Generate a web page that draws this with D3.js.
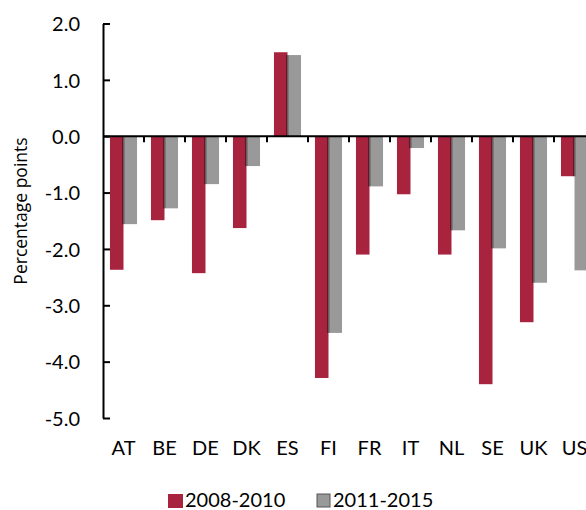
<!DOCTYPE html>
<html>
<head>
<meta charset="utf-8">
<script src="https://cdn.jsdelivr.net/npm/d3@7"></script>
<style>
  body { margin: 0; background: #fff; }
  svg text { font-family: Lato, "Open Sans", sans-serif; fill: #000; }
</style>
</head>
<body>
<svg id="chart" width="586" height="510"></svg>
<script>
// countries and the two period series (percentage points)
var countries = ['AT', 'BE', 'DE', 'DK', 'ES', 'FI', 'FR', 'IT', 'NL', 'SE', 'UK', 'US'];
var values0810 = [-2.37, -1.49, -2.43, -1.63, 1.49, -4.29, -2.10, -1.03, -2.10, -4.40, -3.30, -0.71];
var values1115 = [-1.56, -1.28, -0.85, -0.53, 1.44, -3.49, -0.89, -0.21, -1.67, -1.99, -2.60, -2.38];
var seriesNames = ['2008-2010', '2011-2015'];
var seriesColors = ['#a8243e', '#999999'];
var yTicks = [2, 1, 0, -1, -2, -3, -4, -5];

var rows = countries.map(function(c, i) {
  return { country: c, vals: [values0810[i], values1115[i]] };
});

var svg = d3.select('#chart');

var x0 = d3.scaleBand()
  .domain(countries)
  .range([103, 595])
  .paddingInner(0.34)
  .paddingOuter(0.17);

var x1 = d3.scaleBand()
  .domain([0, 1])
  .range([0, x0.bandwidth()]);

var y = d3.scaleLinear()
  .domain([-5, 2])
  .range([418, 23.5]);

// bars
var groups = svg.append('g').selectAll('g.cat')
  .data(rows)
  .enter().append('g')
  .attr('class', 'cat')
  .attr('transform', function(d) { return 'translate(' + x0(d.country) + ',0)'; });

groups.selectAll('rect.bar')
  .data(function(d) { return d.vals; })
  .enter().append('rect')
  .attr('class', 'bar')
  .attr('x', function(d, i) { return x1(i); })
  .attr('width', x1.bandwidth())
  .attr('y', function(d) { return y(Math.max(0, d)); })
  .attr('height', function(d) { return Math.abs(y(d) - y(0)); })
  .style('fill', function(d, i) { return seriesColors[i]; });

// dark shadow strip where the red bar meets the grey one
groups.append('rect')
  .attr('x', x1(1) - 1.5)
  .attr('width', 2.5)
  .attr('y', function(d) {
    var m = Math.sign(d.vals[0]) * Math.min(Math.abs(d.vals[0]), Math.abs(d.vals[1]));
    return y(Math.max(0, m));
  })
  .attr('height', function(d) {
    var m = Math.min(Math.abs(d.vals[0]), Math.abs(d.vals[1]));
    return y(0) - y(m);
  })
  .style('fill', '#000')
  .style('opacity', 0.4);

// y axis, ticks pointing inward; plain hyphen for negatives
var fmt = d3.format('.1f');
var yAxis = d3.axisLeft(y)
  .tickValues(yTicks)
  .tickFormat(function(d) { return fmt(d).replace('\u2212', '-'); })
  .tickSizeInner(-7)
  .tickSizeOuter(0)
  .tickPadding(23);

var yg = svg.append('g')
  .attr('transform', 'translate(103,0)')
  .call(yAxis);
yg.select('.domain').style('stroke', '#000').style('stroke-width', 2);
yg.selectAll('.tick line').style('stroke', '#000').style('stroke-width', 2);
yg.selectAll('.tick text')
  .style('font-size', '20px')
  .attr('dy', '0.36em');

// zero line with category separators
svg.append('line')
  .attr('x1', 103).attr('x2', 586)
  .attr('y1', y(0)).attr('y2', y(0))
  .style('stroke', '#000')
  .style('stroke-width', 2);

var gap = x0.step() - x0.bandwidth();
svg.append('g').selectAll('line.sep')
  .data(countries.slice(0, -1))
  .enter().append('line')
  .attr('class', 'sep')
  .attr('x1', function(c) { return x0(c) + x0.bandwidth() + gap / 2; })
  .attr('x2', function(c) { return x0(c) + x0.bandwidth() + gap / 2; })
  .attr('y1', y(0)).attr('y2', y(0) + 6)
  .style('stroke', '#000')
  .style('stroke-width', 2);

// category labels
svg.append('g').selectAll('text.cat')
  .data(countries)
  .enter().append('text')
  .attr('class', 'cat')
  .attr('x', function(c) { return x0(c) + x0.bandwidth() / 2; })
  .attr('y', 455)
  .attr('text-anchor', 'middle')
  .style('font-size', '20px')
  .text(function(c) { return c; });

// y axis title
svg.append('text')
  .attr('transform', 'translate(27,211) rotate(-90)')
  .attr('text-anchor', 'middle')
  .style('font-family', '"Open Sans", sans-serif')
  .style('font-size', '17.5px')
  .text('Percentage points');

// legend
var legendX = [168, 317];
var legend = svg.append('g').selectAll('g.leg')
  .data(seriesNames)
  .enter().append('g')
  .attr('class', 'leg')
  .attr('transform', function(d, i) { return 'translate(' + legendX[i] + ',493)'; });

legend.append('rect')
  .attr('y', 1)
  .attr('width', function(d, i) { return i === 0 ? 15 : 13; })
  .attr('height', function(d, i) { return i === 0 ? 14 : 13; })
  .style('fill', function(d, i) { return seriesColors[i]; })
  .style('stroke', function(d, i) { return i === 0 ? 'none' : '#555'; })
  .style('stroke-width', 1);

legend.append('text')
  .attr('x', function(d, i) { return i === 0 ? 17 : 16; })
  .attr('y', 14)
  .style('font-size', '20px')
  .text(function(d) { return d; });
</script>
</body>
</html>
